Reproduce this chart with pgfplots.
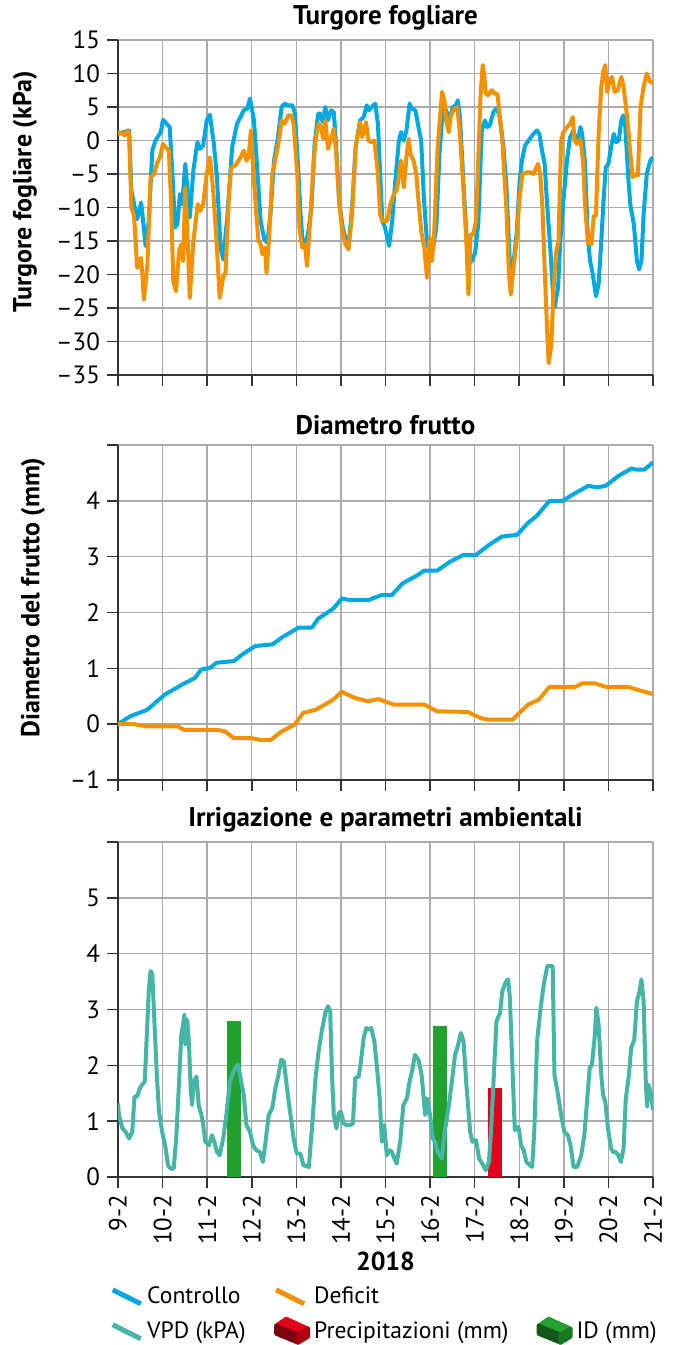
\documentclass[border=0pt]{standalone}
\usepackage{fontspec}
\setmainfont{PT Sans}
\usepackage{pgfplots}
\pgfplotsset{compat=1.18}
\definecolor{ctrl}{HTML}{00A8E1}
\definecolor{defi}{HTML}{F39200}
\definecolor{vpd}{HTML}{45B6A6}
\definecolor{idg}{HTML}{22A12F}
\definecolor{prec}{HTML}{E3001B}
\definecolor{gridc}{HTML}{ABABAB}
\definecolor{axc}{HTML}{333333}
\pgfplotsset{
  panel/.style={
    scale only axis, width=267.5pt, height=167.5pt,
    xmin=0, xmax=12, xtick={0,...,12}, xticklabels={},
    axis x line*=bottom, axis y line*=left,
    axis line style={axc, line width=1pt},
    tick align=outside, major tick length=5.5pt,
    tick style={axc, line width=0.8pt},
    grid=major, grid style={gridc, line width=0.7pt},
    tick label style={font=\fontsize{12.5}{14}\selectfont},
    title style={font=\bfseries\fontsize{13.5}{15}\selectfont, yshift=-4.5pt},
    label style={font=\bfseries\fontsize{13}{15}\selectfont},
    every axis plot/.append style={line width=2pt, line join=round},
  }
}
\begin{document}
\begin{tikzpicture}
\useasboundingbox (-59pt,20pt) rectangle (280pt,-652.5pt);

% turgore fogliare
\begin{axis}[panel, at={(0pt,0pt)}, anchor=north west,
  title={Turgore fogliare},
  ymin=-35, ymax=15, ytick={-35,-30,...,15},
  yticklabels={--35,--30,--25,--20,--15,--10,--5,0,5,10,15},
  ylabel={Turgore fogliare (kPa)},
  ylabel style={at={(axis description cs:-0.174,0.546)}, anchor=center}]
\addplot[ctrl] coordinates {(0,1.0)(0.10,1.2)(0.25,1.5)(0.30,-7.5)(0.43,-11.75)(0.52,-9.25)(0.62,-15.75)(0.69,-12)(0.77,-1.5)(0.84,0)(0.96,1.25)(1.01,3.1)(1.09,2.5)(1.16,2)(1.22,-5)(1.28,-13)(1.33,-12.5)(1.39,-8)(1.44,-9.5)(1.51,-3.5)(1.61,-11.5)(1.69,-4.5)(1.78,-0.25)(1.84,-1.25)(1.91,-0.75)(1.99,3)(2.06,3.85)(2.15,-0.5)(2.22,-5.5)(2.30,-16)(2.36,-17.75)(2.45,-11.5)(2.56,-1)(2.67,2.5)(2.82,4.5)(2.90,4.75)(2.96,6.25)(3.05,3)(3.13,-5)(3.20,-12)(3.28,-14.75)(3.35,-15.25)(3.42,-11)(3.50,-3)(3.59,0.5)(3.67,5)(3.74,5.5)(3.82,5.25)(3.91,5.25)(3.97,4)(4.04,-4)(4.09,-10.5)(4.14,-15)(4.20,-15.5)(4.26,-14)(4.34,-10)(4.41,-0.5)(4.49,4)(4.54,4)(4.59,2.75)(4.65,5)(4.71,3)(4.78,4.5)(4.84,4.25)(4.89,-0.5)(4.96,-9)(5.04,-13)(5.10,-14.5)(5.17,-16)(5.25,-10)(5.33,-1)(5.43,3)(5.51,3.5)(5.58,5.25)(5.63,4.5)(5.69,5)(5.77,5.5)(5.83,2.5)(5.88,-5)(5.93,-12)(5.99,-13)(6.08,-15.75)(6.15,-12)(6.22,-6)(6.30,0)(6.35,1.25)(6.41,0)(6.47,1.5)(6.54,5.5)(6.59,4.75)(6.67,4.5)(6.74,2)(6.80,0)(6.86,-8.5)(6.93,-15)(7.0,-17)(7.08,-15.5)(7.14,-13)(7.21,-2)(7.29,5)(7.36,4.5)(7.43,3)(7.51,5)(7.58,5.25)(7.62,6)(7.67,3.5)(7.75,-6.5)(7.81,-13.5)(7.86,-18.5)(7.93,-18)(8.01,-16.75)(8.08,-12.5)(8.16,1.5)(8.23,3)(8.28,2)(8.34,2.25)(8.42,4.25)(8.48,4.75)(8.55,4)(8.64,-0.5)(8.71,-6.5)(8.79,-18.5)(8.86,-19)(8.94,-14)(9.01,-6)(9.06,-3)(9.13,-0.75)(9.21,0)(9.32,1)(9.40,1.5)(9.45,1)(9.51,-1.5)(9.57,-3.5)(9.62,-9)(9.70,-16.5)(9.75,-22)(9.79,-25)(9.87,-22)(9.92,-15)(9.99,-9)(10.07,-3)(10.14,0.5)(10.22,1.5)(10.27,0)(10.33,0.5)(10.37,2)(10.41,1)(10.47,-3)(10.54,-14.5)(10.59,-18)(10.65,-20)(10.72,-23.25)(10.78,-21.5)(10.84,-15)(10.89,-9)(10.94,-4)(11.00,-3.5)(11.06,-1)(11.12,1)(11.17,-0.25)(11.23,0)(11.29,3)(11.33,3.75)(11.38,2)(11.44,-5)(11.49,-9.5)(11.57,-12.5)(11.64,-18)(11.69,-19.25)(11.74,-18)(11.79,-11)(11.86,-5)(11.94,-3)(12.00,-2.5)};
\addplot[defi] coordinates {(0,0.75)(0.02,1.25)(0.10,1)(0.15,0.75)(0.21,1.5)(0.25,1)(0.30,-10)(0.36,-11.25)(0.43,-19)(0.49,-18)(0.52,-17.5)(0.58,-23.75)(0.66,-18.5)(0.73,-5.5)(0.81,-5)(0.87,-3.5)(0.94,-2.5)(1.01,-0.5)(1.07,-1)(1.14,-1.5)(1.19,-9)(1.24,-21)(1.30,-22.5)(1.37,-16.5)(1.42,-15.5)(1.46,-18)(1.51,-7)(1.57,-16)(1.61,-23.5)(1.69,-15)(1.79,-9.5)(1.85,-10.5)(1.91,-9.5)(1.99,-5)(2.06,-2.5)(2.13,-7)(2.21,-15)(2.28,-23.5)(2.37,-20)(2.41,-20)(2.49,-8)(2.54,-4)(2.63,-3.75)(2.75,-2.5)(2.82,-1.5)(2.88,-3)(2.93,-2.5)(2.98,1.5)(3.03,-4)(3.09,-10)(3.15,-15)(3.20,-15.5)(3.24,-17)(3.30,-16)(3.33,-19.75)(3.39,-14.5)(3.46,-5)(3.54,-2.5)(3.61,0)(3.67,3)(3.74,2.5)(3.82,3.75)(3.89,3.75)(3.94,2.5)(4.02,-5)(4.07,-13)(4.13,-16)(4.19,-15.5)(4.24,-18.75)(4.32,-11)(4.39,-3)(4.44,0.5)(4.50,2.5)(4.56,2)(4.60,0.25)(4.65,3)(4.71,-1.25)(4.77,0)(4.84,1.75)(4.89,-1.5)(4.96,-9)(5.02,-13)(5.10,-15.5)(5.17,-16.25)(5.25,-11)(5.33,-1)(5.43,2.75)(5.48,0.5)(5.56,2.75)(5.62,0)(5.68,-0.25)(5.75,0)(5.83,-5)(5.88,-11)(5.93,-12)(6.04,-12)(6.11,-9.5)(6.19,-8)(6.26,-7.25)(6.35,-3)(6.41,-7)(6.47,-2.5)(6.52,0.25)(6.56,-2)(6.63,-3)(6.69,-5)(6.74,-9)(6.80,-13.5)(6.87,-16)(6.93,-20.5)(6.99,-14.5)(7.04,-18)(7.09,-14)(7.17,-1)(7.23,4)(7.27,7.25)(7.32,6)(7.36,3)(7.42,1.25)(7.46,3.5)(7.52,4.5)(7.61,5)(7.67,1)(7.75,-7.5)(7.81,-14.5)(7.86,-23)(7.91,-14)(7.97,-14)(8.03,-12)(8.08,-3)(8.13,6.5)(8.18,11.25)(8.21,10)(8.25,7)(8.30,6.75)(8.38,7.5)(8.45,7)(8.51,7)(8.55,4.5)(8.62,0)(8.71,-10)(8.77,-20)(8.81,-23)(8.86,-19.5)(8.94,-15)(9.00,-9)(9.07,-5)(9.17,-4.75)(9.27,-4.75)(9.32,-5)(9.37,-4.25)(9.42,-3.5)(9.47,-5)(9.52,-10)(9.57,-19)(9.62,-27.5)(9.66,-33.25)(9.72,-30.5)(9.77,-22)(9.82,-17)(9.88,-15)(9.94,0)(9.99,1.25)(10.07,2)(10.14,2.5)(10.20,3.5)(10.24,0)(10.29,-0.5)(10.37,0.25)(10.43,-3)(10.48,-10)(10.54,-15.25)(10.62,-15.5)(10.67,-11.25)(10.72,-11.25)(10.78,1)(10.84,8)(10.89,10.5)(10.93,11.25)(10.97,7.25)(11.03,9)(11.08,9.5)(11.14,7.25)(11.21,7.5)(11.29,9.5)(11.34,8)(11.42,3.5)(11.48,-1)(11.54,-5.5)(11.60,-5)(11.66,-5.25)(11.72,5)(11.79,8)(11.86,10)(11.94,8.75)(12.0,8.6)};
\end{axis}

% diametro frutto
\begin{axis}[panel, at={(0pt,-202.5pt)}, anchor=north west,
  title={Diametro frutto},
  ymin=-1, ymax=5, ytick={-1,0,...,5},
  yticklabels={--1,0,1,2,3,4,{}},
  ylabel={Diametro del frutto (mm)},
  ylabel style={at={(axis description cs:-0.159,0.545)}, anchor=center}]
\addplot[ctrl] coordinates {(0,0)(0.27,0.14)(0.66,0.26)(1.05,0.53)(1.44,0.71)(1.73,0.83)(1.87,0.98)(2.07,1.01)(2.21,1.1)(2.60,1.13)(2.79,1.25)(3.08,1.4)(3.47,1.43)(3.67,1.55)(4.05,1.73)(4.35,1.73)(4.49,1.89)(4.83,2.07)(5.02,2.25)(5.22,2.22)(5.61,2.22)(5.90,2.31)(6.14,2.31)(6.38,2.52)(6.72,2.67)(6.87,2.75)(7.16,2.75)(7.45,2.91)(7.74,3.03)(8.03,3.03)(8.32,3.21)(8.61,3.36)(8.95,3.39)(9.19,3.6)(9.39,3.73)(9.68,4.0)(9.97,4.0)(10.26,4.14)(10.55,4.27)(10.75,4.24)(10.94,4.27)(11.23,4.45)(11.52,4.58)(11.62,4.56)(11.81,4.56)(12.0,4.69)};
\addplot[defi] coordinates {(0,0)(0.37,0)(0.66,-0.04)(1.34,-0.04)(1.48,-0.1)(2.21,-0.1)(2.40,-0.13)(2.60,-0.25)(2.99,-0.25)(3.18,-0.28)(3.43,-0.28)(3.67,-0.13)(3.96,-0.01)(4.15,0.2)(4.44,0.26)(4.83,0.44)(5.02,0.58)(5.31,0.47)(5.60,0.41)(5.84,0.45)(6.19,0.35)(6.87,0.35)(7.16,0.23)(7.84,0.22)(8.13,0.11)(8.32,0.08)(8.85,0.08)(9.0,0.2)(9.2,0.35)(9.44,0.44)(9.68,0.67)(10.26,0.67)(10.41,0.73)(10.70,0.73)(10.94,0.67)(11.43,0.67)(11.72,0.6)(12.0,0.54)};
\end{axis}

% irrigazione e parametri ambientali
\begin{axis}[panel, at={(0pt,-401pt)}, anchor=north west,
  title={Irrigazione e parametri ambientali},
  ymin=0, ymax=6, ytick={0,...,6},
  yticklabels={0,1,2,3,4,5,{}},
  xticklabels={9-2,10-2,11-2,12-2,13-2,14-2,15-2,16-2,17-2,18-2,19-2,20-2,21-2},
  x tick label style={rotate=90, anchor=east},
  xlabel={2018},
  xlabel style={at={(axis description cs:0.5,-0.251)}, anchor=center, font=\bfseries\fontsize{13}{15}\selectfont},
  legend columns=3, legend cell align=left,
  legend style={at={(0.5,-0.303)}, anchor=north, draw=none, fill=none,
    font=\fontsize{11.8}{13.5}\selectfont, row sep=3pt,
    /tikz/every even column/.append style={column sep=12pt}}]
\addplot[draw=none, fill=idg, forget plot] coordinates {(2.44,2.8)(2.75,2.8)} \closedcycle;
\addplot[draw=none, fill=idg, forget plot] coordinates {(7.06,2.7)(7.37,2.7)} \closedcycle;
\addplot[draw=none, fill=prec, forget plot] coordinates {(8.30,1.6)(8.62,1.6)} \closedcycle;
\addplot[vpd, forget plot] coordinates {(0,1.32)(0.02,1.11)(0.10,0.87)(0.17,0.81)(0.25,0.69)(0.32,0.81)(0.37,1.44)(0.43,1.44)(0.49,1.59)(0.54,1.65)(0.60,1.71)(0.64,2.43)(0.69,3.33)(0.73,3.69)(0.77,3.63)(0.81,2.91)(0.87,1.83)(0.92,1.17)(0.99,0.81)(1.07,0.51)(1.12,0.21)(1.18,0.15)(1.25,0.15)(1.31,0.75)(1.37,1.71)(1.42,2.55)(1.46,2.73)(1.49,2.91)(1.51,2.37)(1.55,2.82)(1.59,2.43)(1.63,1.59)(1.66,1.29)(1.70,1.71)(1.76,1.8)(1.81,1.29)(1.89,1.05)(1.96,0.63)(2.04,0.57)(2.11,0.75)(2.16,0.63)(2.22,0.45)(2.28,0.39)(2.36,0.69)(2.43,1.11)(2.51,1.71)(2.58,1.86)(2.63,1.95)(2.69,2.01)(2.75,1.77)(2.82,1.47)(2.88,0.93)(2.96,0.81)(3.03,0.57)(3.10,0.48)(3.18,0.45)(3.25,0.27)(3.31,0.63)(3.38,1.11)(3.46,1.23)(3.53,1.59)(3.60,1.83)(3.66,2.1)(3.72,2.07)(3.79,1.59)(3.87,1.11)(3.94,0.69)(4.01,0.42)(4.09,0.42)(4.16,0.21)(4.28,0.18)(4.35,0.87)(4.43,1.77)(4.50,2.25)(4.57,2.61)(4.65,2.94)(4.71,3.06)(4.76,2.97)(4.80,1.83)(4.84,1.11)(4.90,0.87)(4.95,1.14)(5.0,1.17)(5.06,0.96)(5.13,0.93)(5.21,0.93)(5.27,0.96)(5.32,1.77)(5.40,1.8)(5.45,2.07)(5.51,2.49)(5.57,2.67)(5.62,2.64)(5.68,2.67)(5.75,2.43)(5.81,1.95)(5.87,1.41)(5.92,0.63)(5.97,0.93)(6.03,0.39)(6.09,0.48)(6.14,0.45)(6.20,0.33)(6.25,0.24)(6.33,0.63)(6.40,1.29)(6.48,1.41)(6.54,1.71)(6.61,1.95)(6.66,2.19)(6.74,2.1)(6.81,1.83)(6.89,1.11)(6.93,1.41)(7.0,1.11)(7.06,0.69)(7.11,0.63)(7.17,0.45)(7.26,0.33)(7.32,0.75)(7.41,1.23)(7.49,1.71)(7.56,2.19)(7.63,2.37)(7.69,2.58)(7.75,2.43)(7.82,1.59)(7.90,0.8)(7.95,0.63)(8.03,0.66)(8.10,0.33)(8.17,0.24)(8.25,0.12)(8.32,0.27)(8.37,0.87)(8.43,1.83)(8.49,2.79)(8.57,2.94)(8.62,3.33)(8.69,3.48)(8.75,3.54)(8.79,3.21)(8.84,2.13)(8.90,0.84)(8.96,0.9)(8.99,0.87)(9.04,0.57)(9.10,0.48)(9.16,0.27)(9.24,0.21)(9.29,0.18)(9.34,0.87)(9.40,2.43)(9.48,3.03)(9.55,3.45)(9.63,3.78)(9.69,3.78)(9.75,3.78)(9.79,1.83)(9.87,1.47)(9.94,1.11)(10.01,0.81)(10.09,0.75)(10.15,0.57)(10.22,0.18)(10.30,0.18)(10.39,0.39)(10.46,0.75)(10.52,1.35)(10.58,1.95)(10.63,2.01)(10.69,2.49)(10.73,3.03)(10.78,2.73)(10.84,1.83)(10.88,1.47)(10.93,1.35)(10.99,0.87)(11.06,0.51)(11.10,0.45)(11.16,0.45)(11.22,0.39)(11.28,0.27)(11.34,0.51)(11.39,1.41)(11.46,1.83)(11.51,2.31)(11.58,2.46)(11.64,3.15)(11.70,3.33)(11.74,3.54)(11.79,3.15)(11.84,1.65)(11.87,1.26)(11.90,1.65)(11.96,1.47)(12.0,1.2)};
\addlegendimage{legend image code/.code={\draw[ctrl, line width=2.5pt] (0pt,3.5pt) -- (14pt,-3.5pt);}}
\addlegendentry{Controllo}
\addlegendimage{legend image code/.code={\draw[defi, line width=2.5pt] (0pt,3.5pt) -- (14pt,-3.5pt);}}
\addlegendentry{Deficit}
\addlegendimage{empty legend}
\addlegendentry{}
\addlegendimage{legend image code/.code={\draw[vpd, line width=2.5pt] (0pt,3.5pt) -- (14pt,-3.5pt);}}
\addlegendentry{VPD (kPA)}
\addlegendimage{legend image code/.code={
  \fill[prec] (0pt,3pt) -- (5pt,6.5pt) -- (16pt,1.5pt) -- (11pt,-1.5pt) -- cycle;
  \fill[prec!55!black] (0pt,3pt) -- (11pt,-1.5pt) -- (11pt,-5.5pt) -- (0pt,-1pt) -- cycle;
  \fill[prec!75!black] (11pt,-1.5pt) -- (16pt,1.5pt) -- (16pt,-2.5pt) -- (11pt,-5.5pt) -- cycle;}}
\addlegendentry{Precipitazioni (mm)}
\addlegendimage{legend image code/.code={
  \fill[idg] (0pt,3pt) -- (5pt,6.5pt) -- (16pt,1.5pt) -- (11pt,-1.5pt) -- cycle;
  \fill[idg!55!black] (0pt,3pt) -- (11pt,-1.5pt) -- (11pt,-5.5pt) -- (0pt,-1pt) -- cycle;
  \fill[idg!75!black] (11pt,-1.5pt) -- (16pt,1.5pt) -- (16pt,-2.5pt) -- (11pt,-5.5pt) -- cycle;}}
\addlegendentry{ID (mm)}
\end{axis}
\end{tikzpicture}
\end{document}
